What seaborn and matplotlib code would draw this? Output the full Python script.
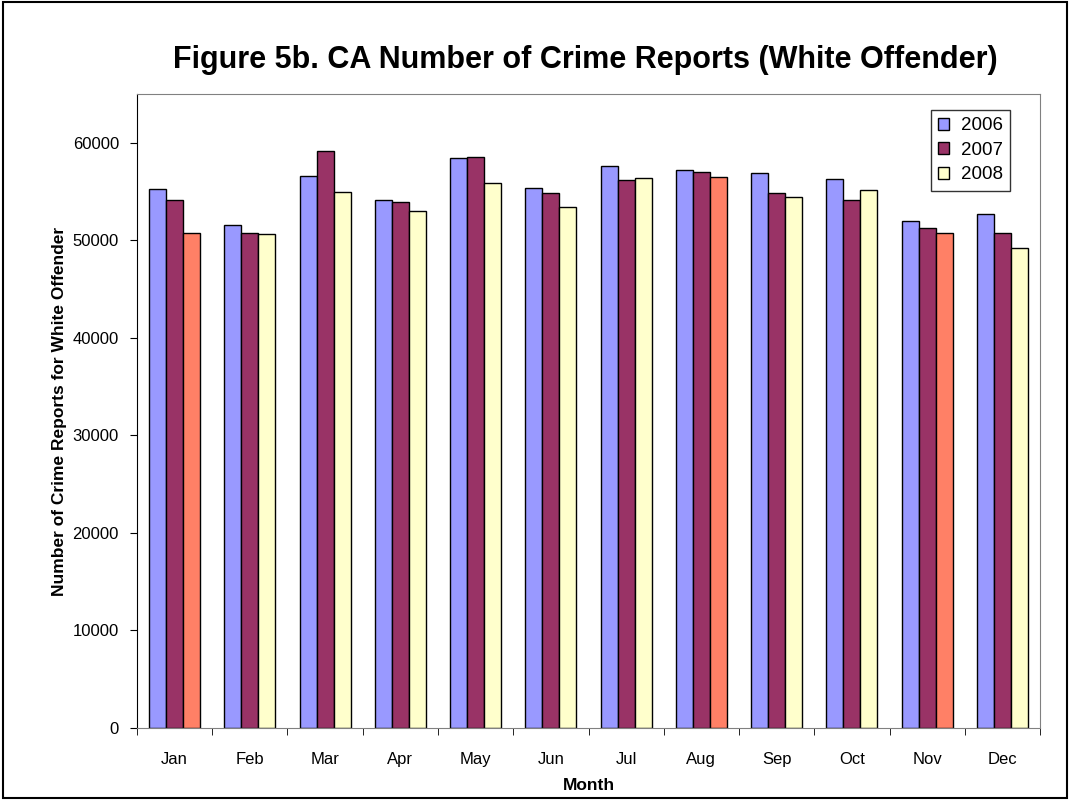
import matplotlib
matplotlib.use("Agg")
import matplotlib.pyplot as plt
import seaborn as sns
import pandas as pd
import numpy as np
from matplotlib.patches import Rectangle
from matplotlib.ticker import FixedLocator

months = ['Jan', 'Feb', 'Mar', 'Apr', 'May', 'Jun', 'Jul', 'Aug', 'Sep', 'Oct', 'Nov', 'Dec']
years = ['2006', '2007', '2008']
reports_2006 = [55300, 51600, 56600, 54100, 58400, 55400, 57600, 57200, 56900, 56300, 52000, 52700]
reports_2007 = [54100, 50700, 59200, 53900, 58500, 54900, 56200, 57000, 54800, 54100, 51300, 50700]
reports_2008 = [50800, 50600, 55000, 53000, 55900, 53400, 56400, 56500, 54400, 55200, 50700, 49200]
highlight_2008 = ['Jan', 'Aug', 'Nov']   # bars drawn in salmon in the original

df = pd.DataFrame({
    'Month': months * 3,
    'Year': [y for y in years for _ in months],
    'Reports': reports_2006 + reports_2007 + reports_2008,
})

plt.rcParams['font.family'] = ['Liberation Sans', 'DejaVu Sans']

fig = plt.figure(figsize=(10.7, 8), dpi=100)
ax = fig.add_axes([0.128, 0.09, 0.844, 0.7925])

palette = {'2006': '#9999FF', '2007': '#993366', '2008': '#FFFFCC'}
sns.barplot(data=df, x='Month', y='Reports', hue='Year', order=months,
            hue_order=years, palette=palette, width=0.68, gap=0,
            edgecolor='black', linewidth=1, saturation=1, errorbar=None, ax=ax)

# highlight some 2008 bars
for bar, m in zip(ax.containers[2], months):
    if m in highlight_2008:
        bar.set_facecolor('#FF8066')

ax.set_ylim(0, 65000)
ax.set_xlim(-0.5, 11.5)
ax.set_yticks(range(0, 60001, 10000))
ax.tick_params(axis='y', labelsize=12, length=5, direction='out', pad=8)
ax.tick_params(axis='x', which='major', length=0, labelsize=12, pad=17)
ax.xaxis.set_minor_locator(FixedLocator(np.arange(-0.5, 12, 1)))
ax.tick_params(axis='x', which='minor', length=5, direction='out')

for s in ['top', 'right', 'bottom']:
    ax.spines[s].set_color('#808080')
ax.spines['left'].set_color('black')

ax.set_xlabel('Month', fontsize=12.5, fontweight='bold', labelpad=8)
ax.set_ylabel('Number of Crime Reports for White Offender', fontsize=12.5,
              fontweight='bold', labelpad=4)
fig.text(0.547, 0.925, 'Figure 5b. CA Number of Crime Reports (White Offender)',
         fontsize=22, fontweight='bold', ha='center', va='center')

leg = ax.legend(loc='upper right', bbox_to_anchor=(0.967, 0.975), fontsize=13.5,
                frameon=True, fancybox=False, edgecolor='black',
                handlelength=0.6, handleheight=0.6, handletextpad=0.6,
                labelspacing=0.4, borderpad=0.4, borderaxespad=0)
leg.get_frame().set_linewidth(1)

fig.add_artist(Rectangle((0.003, 0.003), 0.994, 0.994, transform=fig.transFigure,
                         fill=False, edgecolor='black', linewidth=1.5))

fig.savefig('out.png', dpi=100)
